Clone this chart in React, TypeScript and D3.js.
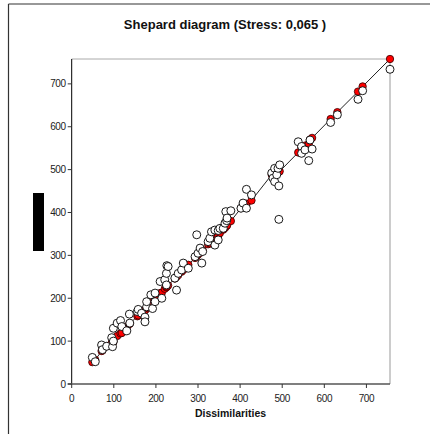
import React from "react";
import * as d3 from "d3";

const title = "Shepard diagram (Stress: 0,065 )";
const xLabel = "Dissimilarities";
const xTicks = [0, 100, 200, 300, 400, 500, 600, 700];
const yTicks = [0, 100, 200, 300, 400, 500, 600, 700];

// dissimilarity, distance (white), disparity (red)
const dissimilarities = [
  49, 56, 71, 73, 83, 95, 97, 99, 99, 108, 116, 119, 131, 137, 138, 156, 158, 166, 174, 174,
  178, 178, 188, 192, 198, 198, 210, 214, 221, 225, 225, 226, 229, 245, 249, 253, 261, 265, 277, 293,
  297, 300, 305, 309, 311, 324, 328, 332, 340, 340, 348, 348, 352, 360, 364, 366, 368, 369, 378, 402,
  407, 415, 415, 427, 475, 478, 482, 482, 487, 490, 492, 492, 494, 538, 546, 546, 554, 563, 566, 571,
  615, 631, 680, 691, 756,
];
const distances = [
  62, 52, 91, 80, 88, 108, 87, 100, 130, 142, 148, 134, 124, 163, 142, 169, 174, 165, 156, 145,
  180, 192, 208, 176, 192, 212, 239, 200, 243, 231, 258, 276, 274, 247, 219, 258, 266, 282, 270, 297,
  348, 305, 317, 282, 309, 332, 340, 355, 359, 324, 336, 358, 363, 363, 375, 402, 381, 387, 404, 410,
  422, 454, 410, 441, 492, 480, 503, 472, 488, 503, 462, 384, 511, 565, 554, 538, 546, 521, 569, 548,
  610, 628, 664, 684, 734,
];
const disparities = [
  51, 56, 77, 78, 88, 96, 96, 98, 100, 112, 118, 119, 132, 140, 141, 158, 160, 166, 172, 172,
  178, 178, 190, 193, 198, 199, 212, 213, 222, 226, 226, 227, 230, 246, 250, 254, 262, 266, 278, 294,
  298, 302, 306, 310, 312, 326, 328, 336, 342, 342, 346, 347, 352, 360, 364, 368, 369, 370, 380, 410,
  412, 420, 420, 428, 488, 490, 490, 490, 492, 495, 495, 495, 496, 540, 552, 552, 556, 560, 570, 574,
  618, 634, 682, 694, 758,
];

export default function App() {
  const x = d3.scaleLinear().domain([0, 756]).range([71.7, 390]);
  const y = d3.scaleLinear().domain([0, 758]).range([384, 59]);
  const idx = d3.range(dissimilarities.length);
  const line = d3
    .line<number>()
    .x((i) => x(dissimilarities[i]))
    .y((i) => y(disparities[i]));
  const font = "'Liberation Sans', Arial, sans-serif";
  return (
    <svg
      width={430}
      height={434}
      style={{ position: "absolute", left: 0, top: 0, background: "#fff" }}
      fontFamily={font}
    >
      <rect x={0} y={0} width={430} height={434} fill="#fff" />
      {/* outer frame */}
      <line x1={8.5} y1={4} x2={8.5} y2={434} stroke="#333" strokeWidth={1.2} />
      <line x1={8.5} y1={4} x2={430} y2={4} stroke="#333" strokeWidth={1.2} />
      <text x={225} y={28.5} textAnchor="middle" fontSize={13} fontWeight="bold" fill="#111">
        {title}
      </text>
      {/* plot frame */}
      <line x1={x(0)} y1={y(758)} x2={x(756)} y2={y(758)} stroke="#aaa" strokeWidth={1} />
      <line x1={x(756)} y1={y(758)} x2={x(756)} y2={y(0)} stroke="#999" strokeWidth={1} />
      {/* axes */}
      <line x1={x(0)} y1={y(0)} x2={x(0)} y2={y(758)} stroke="#000" strokeWidth={1} />
      <line x1={x(0) - 4} y1={y(0)} x2={x(756)} y2={y(0)} stroke="#555" strokeWidth={1.6} />
      {yTicks.map((t) => (
        <g key={"y" + t}>
          <line x1={x(0) - 4} x2={x(0)} y1={y(t)} y2={y(t)} stroke="#333" />
          <text x={x(0) - 6} y={y(t) + 3.5} textAnchor="end" fontSize={10} fill="#222" letterSpacing={-0.4}>
            {t}
          </text>
        </g>
      ))}
      {xTicks.map((t) => (
        <g key={"x" + t}>
          <line x1={x(t)} x2={x(t)} y1={y(0)} y2={y(0) + 4} stroke="#333" />
          <text x={x(t)} y={402} textAnchor="middle" fontSize={10} fill="#222" letterSpacing={-0.4}>
            {t}
          </text>
        </g>
      ))}
      <text x={230.5} y={417} textAnchor="middle" fontSize={10.5} fontWeight="bold" fill="#111">
        {xLabel}
      </text>
      {/* redacted y label */}
      <rect x={33} y={193} width={11} height={58} fill="#000" />
      {/* monotone line */}
      <path d={line(idx) || ""} fill="none" stroke="#222" strokeWidth={1} />
      {idx.map((i) => (
        <circle
          key={"r" + i}
          cx={x(dissimilarities[i])}
          cy={y(disparities[i])}
          r={3.7}
          fill="#ff0000"
          stroke="#300"
          strokeWidth={0.8}
        />
      ))}
      {idx.map((i) => (
        <circle
          key={"w" + i}
          cx={x(dissimilarities[i])}
          cy={y(distances[i])}
          r={4}
          fill="#fff"
          stroke="#000"
          strokeWidth={0.9}
        />
      ))}
    </svg>
  );
}
